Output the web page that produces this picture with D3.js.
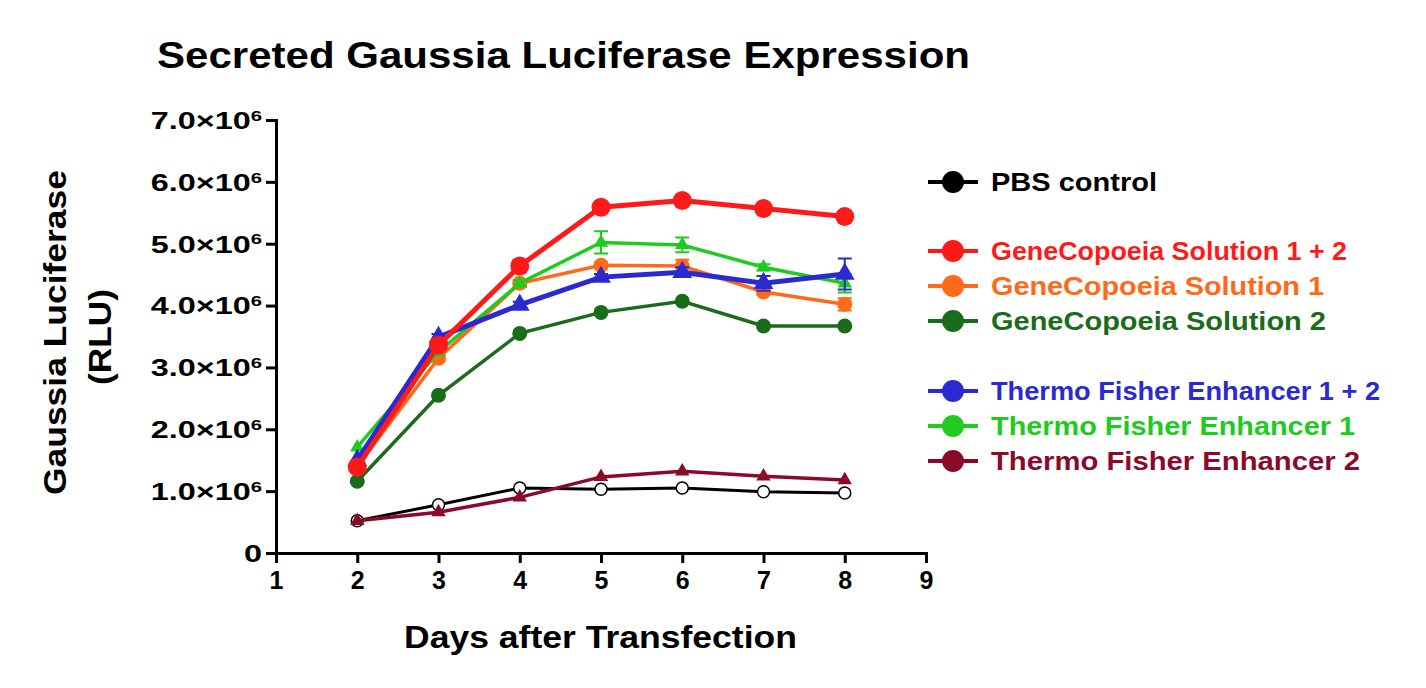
<!DOCTYPE html>
<html><head><meta charset="utf-8">
<script src="https://cdn.jsdelivr.net/npm/d3@7"></script>
<style>body{margin:0;background:#fff}svg{font-family:"Liberation Sans",Arial,sans-serif;font-weight:bold}</style>
</head><body><svg id="chart" width="1426" height="688"></svg>
<script>
// data (values in 10^6 RLU)
var days = [2, 3, 4, 5, 6, 7, 8];
var yTicks = [0, 1, 2, 3, 4, 5, 6, 7];
var xTicks = [1, 2, 3, 4, 5, 6, 7, 8, 9];
var names = ["PBS control", "GeneCopoeia Solution 1 + 2", "GeneCopoeia Solution 1", "GeneCopoeia Solution 2",
  "Thermo Fisher Enhancer 1 + 2", "Thermo Fisher Enhancer 1", "Thermo Fisher Enhancer 2"];
var colors = ["#000000", "#ff1a1a", "#ff6a1a", "#1a6b1a", "#2a2ad0", "#1ecb1e", "#8b0a2a"];
var pbs = [0.52, 0.78, 1.05, 1.03, 1.05, 0.99, 0.97];
var gcBoth = [1.39, 3.36, 4.64, 5.59, 5.70, 5.57, 5.44];
var gc1 = [1.40, 3.15, 4.36, 4.65, 4.64, 4.22, 4.02];
var gc2 = [1.16, 2.55, 3.55, 3.89, 4.07, 3.67, 3.67];
var tfBoth = [1.50, 3.49, 4.01, 4.46, 4.54, 4.36, 4.51];
var tf1 = [1.71, 3.25, 4.36, 5.02, 4.98, 4.62, 4.36];
var tf2 = [0.52, 0.66, 0.90, 1.23, 1.32, 1.24, 1.18];
var errs = [
  [0, 0, 0, 0, 0, 0, 0],
  [0, 0.05, 0.1, 0.05, 0.04, 0.04, 0.04],
  [0, 0.05, 0.05, 0.05, 0.1, 0.05, 0.1],
  [0, 0, 0, 0, 0, 0, 0],
  [0, 0.05, 0.05, 0.05, 0.08, 0.12, 0.25],
  [0, 0, 0.05, 0.18, 0.12, 0.05, 0.15],
  [0, 0, 0, 0, 0, 0, 0]
];
var series = [pbs, gcBoth, gc1, gc2, tfBoth, tf1, tf2];
var markers = ["open", "circle", "circle", "circle", "tri", "tri", "tri"];
var widths = [3, 5, 3.5, 3.5, 5, 3.5, 3.5];
var drawOrder = [0, 6, 3, 2, 5, 4, 1];

var svg = d3.select("#chart");
var x = d3.scaleLinear().domain([1, 9]).range([276, 926]);
var y = d3.scaleLinear().domain([0, 7]).range([553, 120]);

// wide text helper: stretch horizontally like the reference's heavy font
function wide(sel, len) {
  return sel.attr("textLength", len).attr("lengthAdjust", "spacingAndGlyphs");
}

wide(svg.append("text").attr("x", 157).attr("y", 68)
  .attr("font-size", 37).text("Secreted Gaussia Luciferase Expression"), 813);

// axes
var xa = svg.append("g").attr("transform", "translate(0,553)")
  .call(d3.axisBottom(x).tickValues(xTicks).tickSize(10).tickFormat(d3.format("d")));
var ya = svg.append("g").attr("transform", "translate(276,0)")
  .call(d3.axisLeft(y).tickValues(yTicks).tickSize(10).tickFormat(""));
[xa, ya].forEach(function (a) {
  a.select(".domain").attr("stroke-width", 3);
  a.selectAll(".tick line").attr("stroke-width", 3);
});
xa.selectAll(".tick text").attr("font-size", 25).attr("font-family", "Liberation Sans").attr("font-weight", "bold").attr("dy", "0.9em");
ya.selectAll(".tick").each(function (d) {
  var t = d3.select(this).append("g").attr("transform", "translate(-14,0) scale(1.35,1)")
    .append("text").attr("dy", "0.35em").attr("text-anchor", "end")
    .attr("font-size", 24).attr("fill", "#000");
  if (d === 0) { t.text("0"); return; }
  t.append("tspan").text(d.toFixed(1) + "\u00d710");
  t.append("tspan").attr("dy", "-0.55em").attr("font-size", 15).text("6");
});

wide(svg.append("text").attr("x", 404).attr("y", 648)
  .attr("font-size", 31).text("Days after Transfection"), 393);
wide(svg.append("text").attr("transform", "translate(66,495) rotate(-90)")
  .attr("font-size", 31).text("Gaussia Luciferase"), 325);
wide(svg.append("text").attr("transform", "translate(111,385) rotate(-90)")
  .attr("font-size", 31).text("(RLU)"), 96);

// series
var line = d3.line().x(function (d, i) { return x(days[i]); }).y(function (d) { return y(d); });
drawOrder.forEach(function (k) {
  var g = svg.append("g");
  var c = colors[k];
  series[k].forEach(function (v, i) {
    var e = errs[k][i];
    if (e <= 0) return;
    var cx = x(days[i]);
    g.append("path").attr("fill", "none").attr("stroke", c).attr("stroke-width", 2)
      .attr("d", "M" + cx + "," + y(v - e) + "V" + y(v + e) + "M" + (cx - 7) + "," + y(v + e) + "h14M" + (cx - 7) + "," + y(v - e) + "h14");
  });
  g.append("path").datum(series[k]).attr("fill", "none").attr("stroke", c)
    .attr("stroke-width", widths[k]).attr("d", line);
  var big = widths[k] > 4;
  series[k].forEach(function (v, i) {
    var cx = x(days[i]), cy = y(v);
    if (markers[k] === "tri") {
      g.append("path").attr("transform", "translate(" + cx + "," + cy + ")")
        .attr("d", d3.symbol(d3.symbolTriangle, big ? 170 : 90)()).attr("fill", c);
    } else if (markers[k] === "open") {
      g.append("circle").attr("cx", cx).attr("cy", cy).attr("r", 6).attr("fill", "#fff")
        .attr("stroke", c).attr("stroke-width", 1.5);
    } else {
      g.append("circle").attr("cx", cx).attr("cy", cy).attr("r", big ? 9.5 : 7.5).attr("fill", c);
    }
  });
});

// legend
var legY = [182, 251, 286, 321, 391, 426, 461];
var legLen = [166, 356, 333, 335, 389, 364, 369];
names.forEach(function (n, k) {
  var g = svg.append("g").attr("transform", "translate(928," + legY[k] + ")");
  g.append("line").attr("x1", 0).attr("x2", 50).attr("stroke", colors[k]).attr("stroke-width", 4);
  g.append("circle").attr("cx", 25).attr("r", 11).attr("fill", colors[k]);
  wide(g.append("text").attr("x", 63).attr("dy", "0.35em").attr("font-size", 25)
    .attr("fill", colors[k]).text(n), legLen[k]);
});
</script></body></html>
